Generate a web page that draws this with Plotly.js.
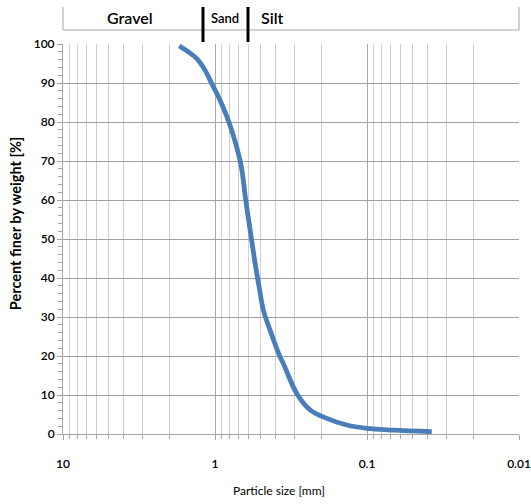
<!DOCTYPE html>
<html>
<head>
<meta charset="utf-8">
<script src="https://cdn.plot.ly/plotly-3.0.1.min.js"></script>
<style>html,body{margin:0;padding:0;background:#fff;}#chart{width:531px;height:504px;}</style>
</head>
<body>
<div id="chart"></div>
<script>
// Particle size distribution
const particleSize = [1.72, 1.50, 1.30, 1.164, 1.052, 0.927, 0.805, 0.678, 0.628, 0.574, 0.545, 0.513, 0.481, 0.435, 0.3735, 0.3553, 0.290, 0.237, 0.184, 0.136, 0.1005, 0.0671, 0.0375];
const percentFiner = [99.5, 98.0, 96.0, 93.3, 89.9, 85.6, 79.7, 69.4, 60.0, 49.7, 43.8, 37.8, 31.8, 26.7, 19.8, 18.1, 10.4, 6.2, 4.0, 2.3, 1.45, 1.0, 0.6];
const xTickVals = [10, 1, 0.1, 0.01];
const xTickText = ['10', '1', '0.1', '0.01'];
const classLabels = ['Gravel', 'Sand', 'Silt'];
const xTitle = 'Particle size [mm]';
const yTitle = 'Percent finer by weight [%]';

const font = 'Lato, "Open Sans", sans-serif';

const trace = {
  x: particleSize, y: percentFiner, type: 'scatter', mode: 'lines',
  line: {color: '#4a7ebb', width: 4.8, shape: 'spline', smoothing: 1.0},
  hoverinfo: 'x+y'
};

const bandY0 = 1.0359, bandY1 = 1.0949;
const div1 = 0.307, div2 = 0.4057;

const layout = {
  width: 531, height: 504,
  margin: {l: 63, r: 12, t: 44, b: 70},
  paper_bgcolor: '#fff', plot_bgcolor: '#fff',
  showlegend: false,
  font: {family: font, color: '#000', size: 12},
  xaxis: {
    type: 'log', range: [1, -2],
    tickmode: 'array', tickvals: xTickVals, ticktext: xTickText,
    showgrid: true, gridcolor: '#a8a8a8', gridwidth: 1,
    showline: true, linecolor: '#a6a6a6', linewidth: 1,
    ticks: 'outside', ticklen: 5, tickcolor: '#a6a6a6',
    ticklabelstandoff: 14,
    tickfont: {family: font, size: 12, color: '#000', weight: 600},
    minor: {dtick: 'D1', showgrid: true, gridcolor: '#d0d0d0', gridwidth: 1, ticks: 'outside', ticklen: 4, tickcolor: '#a6a6a6'},
    zeroline: false, mirror: false
  },
  yaxis: {
    range: [0, 100], dtick: 10,
    showgrid: true, gridcolor: '#a0a0a0', gridwidth: 1,
    showline: true, linecolor: '#a6a6a6', linewidth: 1,
    ticks: 'outside', ticklen: 5, tickcolor: '#a6a6a6',
    tickfont: {family: font, size: 12, color: '#000', weight: 600},
    minor: {dtick: 2, ticks: 'outside', ticklen: 4, tickcolor: '#a6a6a6', showgrid: false},
    zeroline: false
  },
  shapes: [
    {type: 'line', xref: 'paper', yref: 'paper', x0: 0, x1: 0, y0: bandY0, y1: bandY1, line: {color: '#a6a6a6', width: 1}},
    {type: 'line', xref: 'paper', yref: 'paper', x0: 1, x1: 1, y0: bandY0, y1: bandY1, line: {color: '#a6a6a6', width: 1}},
    {type: 'line', xref: 'paper', yref: 'paper', x0: 0, x1: 1, y0: bandY0, y1: bandY0, line: {color: '#a6a6a6', width: 1}},
    {type: 'line', xref: 'paper', yref: 'paper', x0: div1, x1: div1, y0: 1.005, y1: bandY1, line: {color: '#000', width: 3}},
    {type: 'line', xref: 'paper', yref: 'paper', x0: div2, x1: div2, y0: 1.005, y1: bandY1, line: {color: '#000', width: 3}}
  ],
  annotations: [
    {text: classLabels[0], xref: 'paper', yref: 'paper', x: 0.147, y: 1.0667, xanchor: 'center', yanchor: 'middle', showarrow: false, font: {family: font, size: 16, color: '#000', weight: 600}},
    {text: classLabels[1], xref: 'paper', yref: 'paper', x: 0.355, y: 1.0667, xanchor: 'center', yanchor: 'middle', showarrow: false, font: {family: font, size: 13, color: '#000', weight: 600}},
    {text: classLabels[2], xref: 'paper', yref: 'paper', x: 0.4605, y: 1.0667, xanchor: 'center', yanchor: 'middle', showarrow: false, font: {family: font, size: 16, color: '#000', weight: 600}},
    {text: xTitle, xref: 'paper', yref: 'paper', x: 0.4737, y: -0.1436, xanchor: 'center', yanchor: 'middle', showarrow: false, font: {family: font, size: 12, color: '#000'}},
    {text: yTitle, xref: 'paper', yref: 'paper', x: -0.105, y: 0.541, xanchor: 'center', yanchor: 'middle', textangle: -90, showarrow: false, font: {family: font, size: 14.5, color: '#000', weight: 700}}
  ]
};

Plotly.newPlot('chart', [trace], layout, {displayModeBar: false, staticPlot: true});
</script>
</body>
</html>
